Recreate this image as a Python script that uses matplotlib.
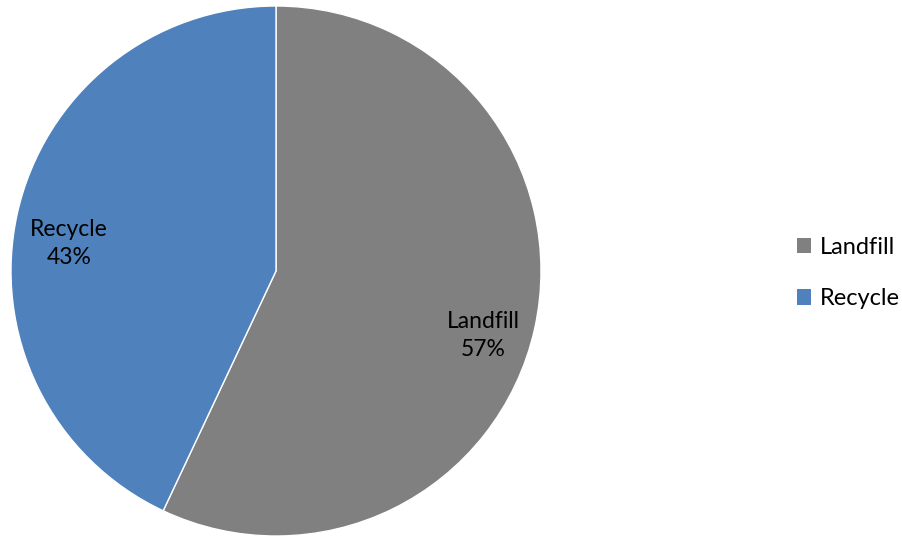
import matplotlib.pyplot as plt
import numpy as np
from matplotlib.patches import Patch

plt.rcParams['font.family'] = ['Lato', 'DejaVu Sans']

labels = ["Landfill", "Recycle"]
shares = [57, 43]
colors = ["#808080", "#4F81BD"]

fig = plt.figure(figsize=(9.03, 5.37), dpi=100)
ax = fig.add_axes([11 / 903, 1 / 537, 530 / 903, 530 / 537])

wedges, texts = ax.pie(shares, colors=colors, startangle=90, counterclock=False,
                       wedgeprops=dict(linewidth=1, edgecolor="white"))

# data labels inside the slices
total = sum(shares)
start = 90.0
for lab, val in zip(labels, shares):
    sweep = 360.0 * val / total
    mid = np.deg2rad(start - sweep / 2)
    r = 0.80
    ax.text(r * np.cos(mid), r * np.sin(mid) - 0.07, "{}\n{}%".format(lab, val),
            ha="center", va="center", fontsize=16.5, color="black", linespacing=1.4)
    start -= sweep

ax.set_xlim(-1, 1)
ax.set_ylim(-1, 1)
ax.set_aspect("equal")
ax.axis("off")

handles = [Patch(facecolor=c, edgecolor="none") for c in colors]
fig.legend(handles, labels, loc="center left", bbox_to_anchor=(780 / 903, 1 - 273 / 537),
           frameon=False, fontsize=17, handlelength=0.62, handleheight=0.62,
           handletextpad=0.35, labelspacing=1.3, borderpad=0.2)

fig.savefig("out.png", dpi=100)
